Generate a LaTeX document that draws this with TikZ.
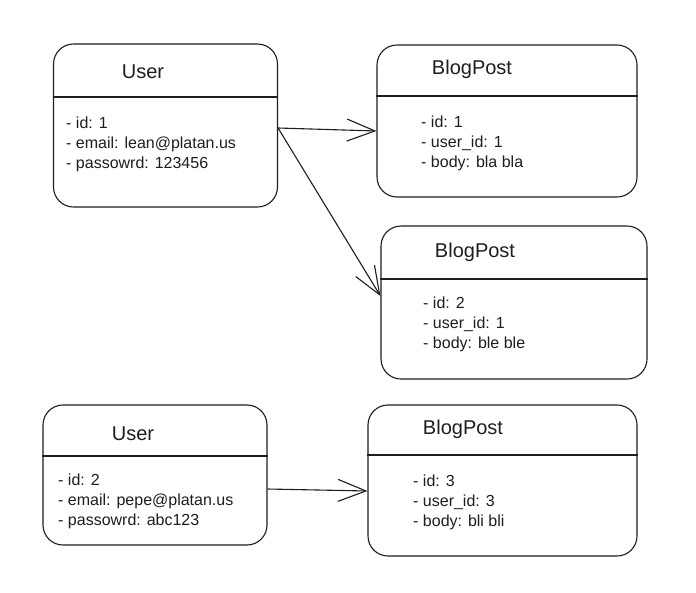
\documentclass[tikz,border=0pt]{standalone}
\usepackage{fontspec}
\setmainfont{Liberation Sans}
\usetikzlibrary{arrows.meta,calc}
\definecolor{ink}{HTML}{1E1E1E}
\tikzset{
  entity/.style={draw=ink, line width=1.1pt, rounded corners=20pt, fill=white, inner sep=0pt},
  divider/.style={draw=ink, line width=1.4pt},
  titletext/.style={font=\fontsize{20}{24}\selectfont, text=ink, inner sep=0pt},
  bodytext/.style={font=\fontsize{16}{20}\selectfont, text=ink, align=left, anchor=north west, inner sep=0pt},
  link/.style={draw=ink, line width=1.1pt, -{Straight Barb[length=28pt,width=22pt,line width=1.1pt]}},
}
\begin{document}
\begin{tikzpicture}[x=1pt,y=-1pt]
\useasboundingbox[fill=white] (0,0) rectangle (696,592);
% boxes
\node[entity, minimum width=224pt, minimum height=163pt] (u1) at (165.5,125.5) {};
\node[entity, minimum width=260pt, minimum height=152pt] (b1) at (507,121) {};
\node[entity, minimum width=266pt, minimum height=153pt] (b2) at (514,302.5) {};
\node[entity, minimum width=224pt, minimum height=140pt] (u2) at (155,475) {};
\node[entity, minimum width=269pt, minimum height=151pt] (b3) at (502.5,480.5) {};
% dividers
\draw[divider] (u1.west |- 0,97) -- (u1.east |- 0,97);
\draw[divider] (b1.west |- 0,96) -- (b1.east |- 0,96);
\draw[divider] (b2.west |- 0,279) -- (b2.east |- 0,279);
\draw[divider] (u2.west |- 0,456) -- (u2.east |- 0,456);
\draw[divider] (b3.west |- 0,455) -- (b3.east |- 0,455);
% titles
\node[titletext] (t1) at (143,72) {User};
\node[titletext] (t2) at (472,69) {BlogPost};
\node[titletext] (t3) at (475,252) {BlogPost};
\node[titletext] (t4) at (133,434) {User};
\node[titletext] (t5) at (463,429) {BlogPost};
% bodies
\node[bodytext] (a1) at (66,117) {- id: 1\\- email: lean@platan.us\\- passowrd: 123456};
\node[bodytext] (a2) at (421,116) {- id: 1\\- user\_id: 1\\- body: bla bla};
\node[bodytext] (a3) at (423,297) {- id: 2\\- user\_id: 1\\- body: ble ble};
\node[bodytext] (a4) at (58,474) {- id: 2\\- email: pepe@platan.us\\- passowrd: abc123};
\node[bodytext] (a5) at (413,475) {- id: 3\\- user\_id: 3\\- body: bli bli};
% connectors
\coordinate (s1) at (u1.east |- 0,128);
\coordinate (e1) at (b1.west |- 0,131);
\coordinate (e2) at (b2.west |- 0,296);
\coordinate (s2) at (u2.east |- 0,489);
\coordinate (e3) at (b3.west |- 0,491);
\draw[link] (s1) -- (e1);
\draw[link] (s1) -- (e2);
\draw[link] (s2) -- (e3);
\end{tikzpicture}
\end{document}
